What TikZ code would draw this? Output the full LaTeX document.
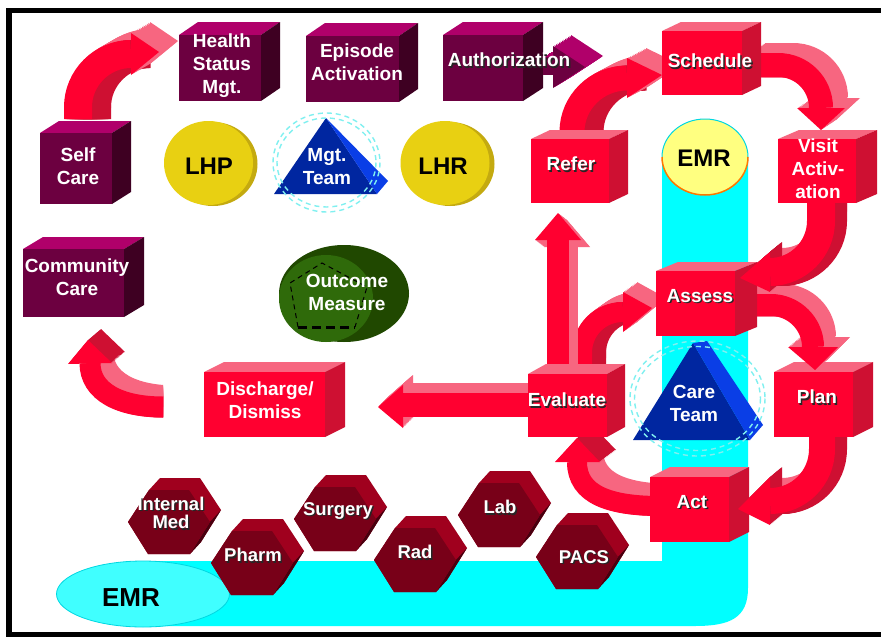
\documentclass[tikz,border=0pt]{standalone}
\usepackage{fontspec}
\setsansfont{Liberation Sans}
\usetikzlibrary{calc,shapes.geometric}
\pgfdeclarelayer{back}
\pgfsetlayers{back,main}

\definecolor{ared}{RGB}{255,0,48}
\definecolor{apink}{RGB}{247,102,128}
\definecolor{adark}{RGB}{206,16,50}
\definecolor{rfront}{RGB}{255,0,48}
\definecolor{rtop}{RGB}{247,102,128}
\definecolor{rside}{RGB}{206,16,50}
\definecolor{mfront}{RGB}{108,0,64}
\definecolor{mtop}{RGB}{176,0,106}
\definecolor{mside}{RGB}{62,0,34}
\definecolor{yel}{RGB}{232,208,18}
\definecolor{yelsh}{RGB}{196,170,16}
\definecolor{emry}{RGB}{255,255,128}
\definecolor{cyanC}{RGB}{0,255,255}
\definecolor{cyanE}{RGB}{64,255,255}
\definecolor{cyanD}{RGB}{0,215,225}
\definecolor{orangeE}{RGB}{255,120,0}
\definecolor{bluef}{RGB}{0,38,160}
\definecolor{blues}{RGB}{10,62,230}
\definecolor{dashc}{RGB}{128,240,240}
\definecolor{greenD}{RGB}{32,72,0}
\definecolor{greenL}{RGB}{47,106,10}
\definecolor{htop}{RGB}{160,0,30}
\definecolor{hfront}{RGB}{120,0,24}
\definecolor{hside}{RGB}{72,0,15}

\tikzset{
  lbl/.style={font=\sffamily\bfseries\fontsize{19}{23}\selectfont, text=white, align=center, inner sep=0pt, outer sep=0pt},
  hlbl/.style={font=\sffamily\bfseries\fontsize{18.5}{18.5}\selectfont, text=white, align=center, inner sep=0pt, outer sep=0pt},
  big/.style={font=\sffamily\bfseries\fontsize{24}{28}\selectfont, text=black, inner sep=0pt, outer sep=0pt},
  conn/.style={line width=3pt, black},
  dcirc/.style={draw=dashc, line width=1.4pt, dash pattern=on 5pt off 4pt},
}

% cube: name, x1, y1, x2, y2, dx, dy, palette prefix
\newcommand\cubeb[8]{%
  \fill[#8top] (#2,#3) -- ++(#6,#7) -- ++({#4-#2},0) -- (#4,#3) -- cycle;
  \fill[#8side] (#4,#3) -- ++(#6,#7) -- ++(0,{#5-#3}) -- (#4,#5) -- cycle;
  \node[fill=#8front, inner sep=0pt, outer sep=0pt, anchor=north west,
        minimum width={(#4-#2)*1pt}, minimum height={(#5-#3)*1pt}] (#1) at (#2,#3) {};
}
% band arrow: path, width, head, dx, dy, top colour, side colour, head colour, front colour
\newcommand\barrow[9]{%
  \foreach \i in {1,...,12}{%
    \draw[#6, line width=#2pt, shift={({\i/12*(#4)},{\i/12*(#5)})}] #1;}
  \foreach \i in {1,...,12}{%
    \draw[#7, line width=#2pt, shift={({\i/12*(#4)},0)}] #1;}
  \foreach \i in {1,...,12}{%
    \fill[#8, shift={({\i/12*(#4)},{\i/12*(#5)})}] #3 -- cycle;}
  \draw[#9, line width=#2pt] #1;
  \fill[#9] #3 -- cycle;
}
\newcommand\hexa[2]{%
  \begin{scope}[shift={(#1,#2)}]
    \fill[htop] (-41,0) -- (-20,-32) -- (-9,-44) -- (31,-44) -- (52,-12) -- (32,20) -- (21,32) -- (-21,32) -- cycle;
    \fill[hside] (41,0) -- (52,-12) -- (32,20) -- (21,32) -- cycle;
    \fill[hfront] (-41,0) -- (-20,-32) -- (20,-32) -- (41,0) -- (21,32) -- (-21,32) -- cycle;
  \end{scope}}
% shadowed label: [style] name, position, text
\newcommand\shl[4][lbl]{%
  \node[#1, text=black!85] (#2s) at ($#3+(1.4,1.4)$) {#4};
  \node[#1] (#2) at #3 {#4};}

\begin{document}
\begin{tikzpicture}[x=1pt,y=-1pt]
\useasboundingbox (0,0) rectangle (881,637);
\fill[white] (0,0) rectangle (881,637);

% EMR cyan backbone
\fill[cyanC] (143,561) -- (662,561) -- (662,157) -- (748,157) -- (748,588)
  .. controls (748,618) and (730,626) .. (695,626) -- (143,626) -- cycle;
\node[ellipse, fill=cyanE, draw=cyanD, line width=0.8pt, minimum width=173pt, minimum height=66pt, inner sep=0pt] (emrB) at (143,594) {};
\node[big, font=\sffamily\bfseries\fontsize{26}{30}\selectfont] (emrBL) at (131,598) {EMR};
\node[ellipse, fill=emry, minimum width=86pt, minimum height=76pt, inner sep=0pt, outer sep=0pt] (emr) at (705,157) {};
\draw[cyanD, line width=1pt] (662,157) arc[start angle=180, end angle=360, x radius=43, y radius=38];
\draw[orangeE, line width=1.5pt] (748,157) arc[start angle=0, end angle=180, x radius=43, y radius=38];
\node[big] (emrL) at (704,158) {EMR};

% LHP / LHR
\fill[yelsh] (213,164) ellipse [x radius=44.5, y radius=42];
\node[ellipse, fill=yel, minimum width=89pt, minimum height=84pt, inner sep=0pt, outer sep=0pt] (lhp) at (208.5,163) {};
\node[big] (lhpL) at (209,166) {LHP};
\fill[yelsh] (450,164) ellipse [x radius=44.5, y radius=42];
\node[ellipse, fill=yel, minimum width=89pt, minimum height=84pt, inner sep=0pt, outer sep=0pt] (lhr) at (445,163) {};
\node[big] (lhrL) at (443,166) {LHR};

% Mgt. Team pyramid
\fill[bluef] (326,118) -- (274,194) -- (377,194) -- cycle;
\fill[blues] (326,118) -- (388,181) -- (377,194) -- cycle;
\draw[dcirc] (326.5,162.5) ellipse [x radius=53.5, y radius=49.5];
\draw[dcirc] (326.5,162.5) ellipse [x radius=49.5, y radius=44.5];
\node[lbl] (mgt) at (327,167) {Mgt.\\Team};

% Care Team pyramid
\fill[bluef] (693,343) -- (633,440) -- (750,440) -- cycle;
\fill[blues] (693,343) -- (707,341) -- (763,425) -- (750,440) -- cycle;
\draw[dcirc] (697.5,398.5) ellipse [x radius=67.5, y radius=57.5];
\draw[dcirc] (697.5,398.5) ellipse [x radius=63, y radius=52];
\node[lbl] (care) at (694,403.5) {Care\\Team};

% Outcome Measure
\fill[greenD] (344,293.5) ellipse [x radius=65, y radius=48.5];
\fill[greenL] (326,298.5) ellipse [x radius=47, y radius=43.5];
\draw[black, line width=1pt, dash pattern=on 5pt off 4pt] (298,327) -- (290,283) -- (322,263) -- (367,287) -- (355,327);
\draw[black, line width=3pt, dash pattern=on 9pt off 5pt] (298,327) -- (355,327);
\node[lbl] (outcome) at (347,292.5) {Outcome\\Measure};

% arrows drawn behind the boxes
\barrow{(78,119) -- (78,107) .. controls (78,78) and (102,54) .. (131,54)}{28}{(131,33) -- (131,75) -- (159,52)}{19}{-11}{apink}{adark}{apink}{ared}
\barrow{(572,140) -- (572,132) .. controls (572,102) and (597,78) .. (627,78)}{25}{(627,58) -- (627,98) -- (662,75)}{19}{-10}{apink}{adark}{apink}{ared}
\barrow{(750,65) -- (778,65) .. controls (802,65) and (821,84) .. (821,108)}{24}{(797,108) -- (845,108) -- (821,130)}{15}{-10}{apink}{apink}{apink}{ared}
\barrow{(582,368) -- (582,353) .. controls (582,330) and (600,312) .. (623,312)}{20}{(623,292) -- (623,332) -- (652,308)}{14}{-10}{apink}{adark}{apink}{ared}
\barrow{(558,372) -- (558,240)}{22}{(535,240) -- (581,240) -- (558,213)}{9}{7}{apink}{apink}{apink}{ared}
\barrow{(528,405) -- (403,405)}{24}{(403,385) -- (403,428) -- (378,407)}{10}{-10}{apink}{apink}{apink}{ared}
\begin{scope}
  \clip (0,0) rectangle (163,637);
  \barrow{(163,407) .. controls (120,407) and (90,392) .. (90,363)}{21}{(68,364) -- (112,363) -- (88,340)}{13}{-11}{apink}{apink}{adark}{ared}
\end{scope}
\barrow{(660,506) .. controls (610,506) and (577,495) .. (577,462)}{20}{(555,462) -- (600,462) -- (577,438)}{16}{-12}{apink}{apink}{adark}{ared}

% boxes
\cubeb{selfcare}{40}{133}{112}{204}{19}{-12}{m}
\cubeb{hsm}{179}{35}{261}{101}{19}{-13}{m}
\cubeb{episode}{306}{36}{399}{102}{19}{-13}{m}
\cubeb{auth}{443}{35}{523}{101}{20}{-13}{m}
\cubeb{community}{23}{249}{124}{317}{20}{-12}{m}
\cubeb{schedule}{662}{31}{742}{95}{19}{-9}{r}
\cubeb{refer}{531}{139}{609}{203}{19}{-9}{r}
\cubeb{evaluate}{528}{374}{607}{437}{18}{-10}{r}
\cubeb{discharge}{204}{372}{325}{437}{20}{-10}{r}
\cubeb{act}{650}{477}{729}{542}{20}{-10}{r}
\barrow{(822,432) -- (822,449) .. controls (822,478) and (799,501) .. (770,501)}{26}{(770,477) -- (770,525) -- (738,509)}{12}{-10}{apink}{adark}{adark}{ared}
\cubeb{plan}{774}{372}{853}{437}{20}{-10}{r}
\barrow{(745,305) -- (771,305) .. controls (794,305) and (813,324) .. (813,347)}{22}{(788,347) -- (838,347) -- (815,370)}{12}{-10}{apink}{apink}{apink}{ared}
\cubeb{assess}{656}{271}{735}{336}{22}{-9}{r}
\barrow{(821,200) -- (821,221) .. controls (821,249) and (798,272) .. (770,272)}{28}{(770,252) -- (770,292) -- (740,278)}{12}{-10}{apink}{adark}{adark}{ared}
\cubeb{visit}{778}{139}{856}{203}{21}{-9}{r}
\barrow{(543,66) -- (553,66)}{18}{(553,46) -- (553,88) -- (585,67)}{18}{-11}{mtop}{mtop}{mtop}{mfront}

% connectors (behind)
\begin{pgfonlayer}{back}
\draw[conn] (lhp.east) -- (mgt.west);
\draw[conn] (mgt.east) -- (lhr.west);
\draw[conn] (lhr.east) -- (refer.west);
\draw[conn] (refer.east) -- (emr.west);
\end{pgfonlayer}

% department hexagons
\hexa{169}{522}
\hexa{335}{519}
\hexa{499}{515}
\hexa{252}{563}
\hexa{415}{560}
\hexa{577}{557}

% labels
\node[lbl] (selfcareL) at (78,166) {Self\\Care};
\node[lbl] (hsmL) at (222,66) {Health\\Status\\Mgt.};
\node[lbl] (episodeL) at (357,62) {Episode\\Activation};
\shl{authL}{(509,60)}{Authorization}
\node[lbl] (communityL) at (77,277) {Community\\Care};
\shl{scheduleL}{(710,61)}{Schedule}
\shl{referL}{(571,164)}{Refer}
\node[lbl] (visitL) at (818,169) {Visit\\Activ-\\ation};
\shl{assessL}{(700,296)}{Assess}
\shl{evaluateL}{(567,400)}{Evaluate}
\shl{planL}{(817,397)}{Plan}
\shl{actL}{(692,502)}{Act}
\node[lbl] (dischargeL) at (265,400) {Discharge/\\Dismiss};
\shl[hlbl]{imL}{(171,513)}{Internal\\Med}
\shl[hlbl]{pharmL}{(253,555)}{Pharm}
\shl[hlbl]{surgL}{(338,511)}{Surgery}
\shl[hlbl]{radL}{(415,552)}{Rad}
\shl[hlbl]{labL}{(500,507)}{Lab}
\shl[hlbl]{pacsL}{(584,557)}{PACS}

% frame
\draw[black, line width=5.5pt] (881,10.5) -- (9,10.5) -- (9,634.5) -- (881,634.5);
\end{tikzpicture}
\end{document}
